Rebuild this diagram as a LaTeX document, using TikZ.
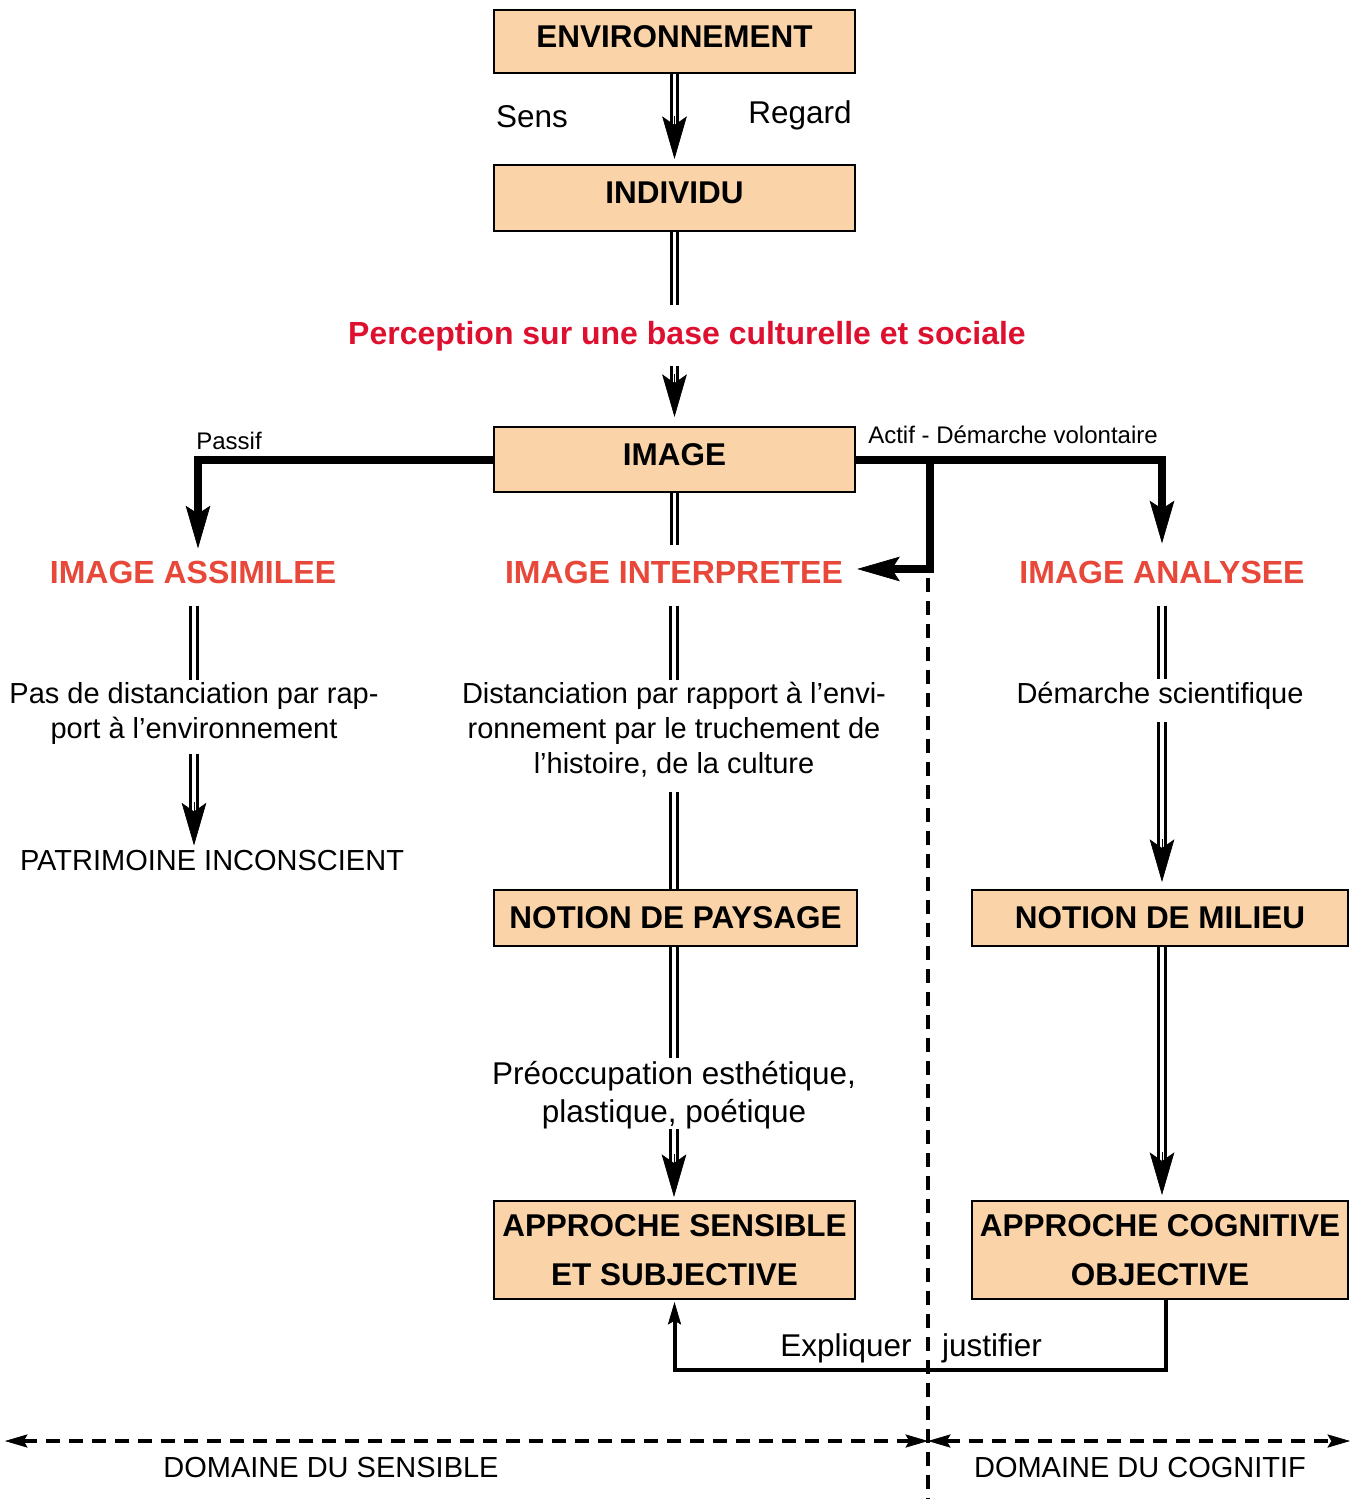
\documentclass[tikz,border=0pt]{standalone}
\usepackage{fontspec}
\setmainfont{Liberation Sans}
\usetikzlibrary{arrows.meta,calc}
\definecolor{peach}{RGB}{251,211,168}
\definecolor{titlered}{RGB}{232,72,58}
\definecolor{percred}{RGB}{222,16,48}
\newcommand\dblarrow[2]{%
  \draw[dbl, shorten >=20pt] (#1) -- (#2);
  \draw[dtip] ($(#2)+(0,-43)$) -- (#2);}
\begin{document}
\begin{tikzpicture}[x=0.75pt,y=-0.75pt,
  box/.style={draw=black, line width=1.5pt, fill=peach, inner sep=0pt, align=center,
    font=\fontsize{23.6pt}{36.75pt}\selectfont\bfseries, text=black},
  boxup/.style={box, text depth=7.5pt},
  title/.style={inner sep=0pt, anchor=base, text=titlered, font=\fontsize{24pt}{28pt}\selectfont\bfseries},
  body/.style={inner sep=0pt, align=center, font=\fontsize{21.75pt}{26.25pt}\selectfont},
  big/.style={inner sep=0pt, align=center, font=\fontsize{23.6pt}{28.5pt}\selectfont},
  small/.style={inner sep=0pt, anchor=base, font=\fontsize{18pt}{22pt}\selectfont},
  dbl/.style={draw, line width=2.3pt, double=white, double distance=2.8pt},
  dtip/.style={draw, line width=0.5pt, -{Stealth[length=32pt,width=18.5pt,inset=6.5pt]}},
  thk/.style={draw, line width=6pt, -{Stealth[length=32pt,width=18.5pt,inset=6pt,line width=0.5pt]}},
  thn/.style={draw, line width=3pt, -{Stealth[length=17pt,width=10pt,inset=3pt,line width=0.5pt]}},
  dsh/.style={draw, line width=3pt, dash pattern=on 10.5pt off 6.75pt},
  dsharr/.style={dsh, {Stealth[length=17pt,width=10pt,inset=3pt,line width=0.5pt]}-{Stealth[length=17pt,width=10pt,inset=3pt,line width=0.5pt]}},
]
\useasboundingbox (0,0) rectangle (1354,1499);

% boxes
\node[boxup, minimum width=270.75pt, minimum height=47.25pt] (env) at (674.5,41.5) {ENVIRONNEMENT};
\node[boxup, minimum width=270.75pt, minimum height=49.5pt] (ind) at (674.5,198) {INDIVIDU};
\node[boxup, minimum width=270.75pt, minimum height=48.75pt] (img) at (674.5,459.5) {IMAGE};
\node[box, minimum width=272.25pt, minimum height=42pt] (pays) at (675.5,918) {NOTION DE PAYSAGE};
\node[box, minimum width=282pt, minimum height=42pt] (mil) at (1160,918) {NOTION DE MILIEU};
\node[box, minimum width=270.75pt, minimum height=73.5pt] (sbox) at (674.5,1250) {APPROCHE SENSIBLE\\ET SUBJECTIVE};
\node[box, minimum width=282pt, minimum height=73.5pt] (cbox) at (1160,1250) {APPROCHE COGNITIVE\\OBJECTIVE};

% texts
\node[big, anchor=base] (sensl) at (532,127) {Sens};
\node[big, anchor=base] (regl) at (800,123) {Regard};
\node[title, text=percred] (perc) at (687,344.5) {Perception sur une base culturelle et sociale};
\node[small] (passl) at (229,449) {Passif};
\node[small] (actl) at (1013,443) {Actif - Démarche volontaire};
\node[title] (assim) at (193,583) {IMAGE ASSIMILEE};
\node[title] (interp) at (674,583) {IMAGE INTERPRETEE};
\node[title] (analy) at (1162,583) {IMAGE ANALYSEE};
\node[body, anchor=north] (t1) at (194,682) {Pas de distanciation par rap-\\port à l’environnement};
\node[body, anchor=north] (t2) at (674,682) {Distanciation par rapport à l’envi-\\ronnement par le truchement de\\l’histoire, de la culture};
\node[body, anchor=base] (t3) at (1160,703) {Démarche scientifique};
\node[body, anchor=base] (patri) at (212,870) {PATRIMOINE INCONSCIENT};
\node[big, anchor=north] (preo) at (674,1061) {Préoccupation esthétique,\\plastique, poétique};
\node[big, anchor=base] (expl) at (846,1356) {Expliquer};
\node[big, anchor=base] (just) at (992,1356) {justifier};
\node[body, anchor=base] (dsens) at (331,1477) {DOMAINE DU SENSIBLE};
\node[body, anchor=base] (dcog) at (1140,1477) {DOMAINE DU COGNITIF};

% central column
\coordinate (e1) at ($(ind.north)+(0,-5)$);
\dblarrow{env.south}{e1}
\draw[dbl] (ind.south) -- ($(ind.south |- perc.north)+(0,-16)$);
\coordinate (s2) at ($(img.north |- perc.south)+(0,15)$);
\coordinate (e2) at ($(img.north)+(0,-9)$);
\dblarrow{s2}{e2}
\draw[dbl] (img.south) -- ($(img.south |- interp.north)+(0,-15)$);
\draw[dbl] ($(interp.south)+(0,22)$) -- ($(interp.south |- t2.north)+(0,-2)$);
\draw[dbl] ($(t2.south)+(0,14)$) -- (t2.south |- pays.north);
\draw[dbl] (preo.north |- pays.south) -- ($(preo.north)+(0,-3)$);
\coordinate (s3) at (preo.south);
\coordinate (e3) at ($(preo.south |- sbox.north)+(0,-3)$);
\dblarrow{s3}{e3}

% left column
\draw[dbl] ($(t1.north |- assim.south)+(0,22)$) -- ($(t1.north)+(0,-2)$);
\coordinate (s4) at ($(t1.south)+(0,9)$);
\coordinate (e4) at ($(t1.south |- patri.north)+(0,-4)$);
\dblarrow{s4}{e4}

% right column
\draw[dbl] ($(analy.south)+(0,22)$) -- ($(analy.south |- t3.north)+(0,-2)$);
\coordinate (s5) at ($(analy.south |- t3.south)+(0,13)$);
\coordinate (e5) at ($(analy.south |- mil.north)+(0,-7)$);
\dblarrow{s5}{e5}
\coordinate (s6) at (analy.south |- mil.south);
\coordinate (e6) at ($(analy.south |- cbox.north)+(0,-5)$);
\dblarrow{s6}{e6}

% thick branches
\draw[thk] (img.west) -| ($(assim.north)+(5,-12)$);
\draw[thk] (img.east) -| ($(analy.north)+(0,-17)$);
\coordinate (br) at ($(img.east)+(74,-4)$);
\draw[thk] (br) |- ($(interp.east)+(14,-3)$);

% divider
\coordinate (dv1) at (928,578);
\coordinate (dv2) at (928,1499);
\draw[dsh] (dv1) -- (dv2);
\coordinate (hm) at (928,1441);
\coordinate (hl) at (5,1441);
\coordinate (hr) at (1350,1441);
\draw[dsharr] (hl) -- (hm);
\draw[dsharr] (hm) -- (hr);

% feedback connector
\draw[thn] ($(cbox.south)+(6,0)$) -- ++(0,70) -| ($(sbox.south)+(0,2)$);
\end{tikzpicture}
\end{document}
